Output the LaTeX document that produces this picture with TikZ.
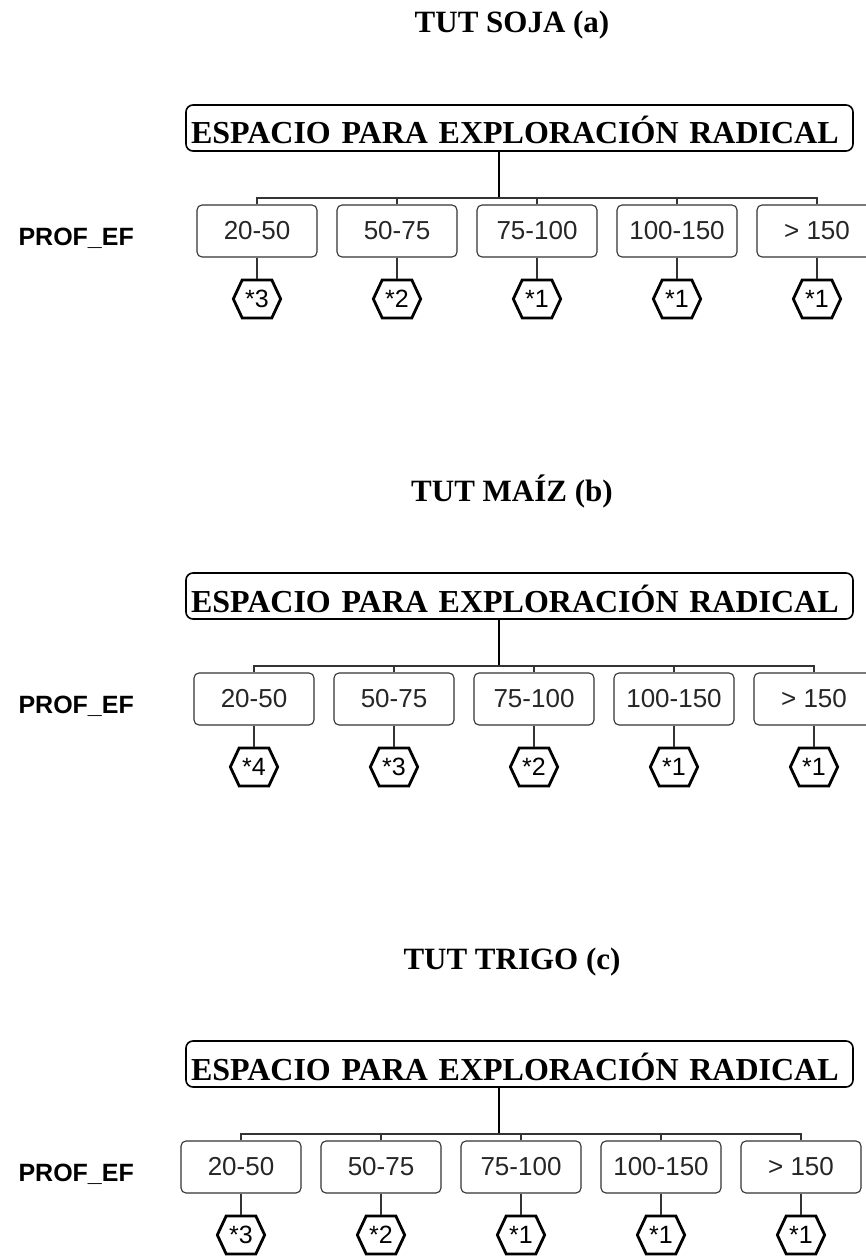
\documentclass[tikz,border=0pt]{standalone}
\usepackage{fontspec}
\setmainfont{Liberation Serif}
\newfontfamily\arialfont{Liberation Sans}
\usetikzlibrary{positioning,shapes.symbols}

\begin{document}
\begin{tikzpicture}[x=1pt, y=-1pt,
      paneltitle/.style={font=\fontsize{31}{36}\selectfont\bfseries, anchor=base},
      rootbox/.style={draw, line width=1.6pt, rounded corners=7pt, minimum height=46pt,
        text width=657pt, align=left, inner xsep=5pt, inner ysep=7pt,
        text height=32pt, text depth=0pt, font=\fontsize{32}{36}\selectfont\bfseries},
      rangebox/.style={draw=black!80, line width=1.1pt, rounded corners=5pt,
        minimum width=120pt, minimum height=52pt, inner sep=0pt, text=black!85,
        font=\arialfont\fontsize{26}{28}\selectfont},
      hexmark/.style={signal, signal to=east and west, signal pointer angle=130, draw,
        line width=2.8pt, minimum height=38pt, inner xsep=3pt, inner ysep=0pt,
        font=\arialfont\fontsize{25}{28}\selectfont},
      varlabel/.style={font=\arialfont\bfseries\fontsize{25}{28}\selectfont, anchor=base west},
      link/.style={draw=black!80, line width=1.1pt},
      rootlink/.style={line width=2.6pt}
    ]
    \useasboundingbox (0,0) rectangle (866,1257);
    \clip (0,0) rectangle (866,1257);

    \foreach \p/\dy/\dx/\ttl/\marks in {a/0/0/{TUT SOJA (a)}/{3,2,1,1,1},
        b/468/-3/{TUT MAÍZ (b)}/{4,3,2,1,1},
        c/936/-16/{TUT TRIGO (c)}/{3,2,1,1,1}} {
      \node[paneltitle] (\p title) at (512,33+\dy) {\ttl};
      \node[rootbox] (\p root) at (519.5,128+\dy) {ESPACIO PARA EXPLORACIÓN RADICAL};
      \node[varlabel] (\p var) at (15,245+\dy) {PROF\_EF};
      \coordinate (\p join) at (499,198+\dy);

      \foreach \lbl [count=\j] in {20-50,50-75,75-100,100-150,{> 150}} {
        \node[rangebox] (\p\j) at (117+140*\j+\dx,231+\dy) {\lbl};
      }
      \foreach \m [count=\j] in \marks {
        \node[hexmark, below=21pt of \p\j] (\p\j h) {*\m};
        \draw[link] (\p\j.south) -- (\p\j h.north);
      }

      \draw[rootlink] (\p join |- \p root.south) -- (\p join);
      \draw[link] (\p1.north) |- (\p join) -| (\p5.north);
      \foreach \j in {2,3,4} {
        \draw[link] (\p\j.north) -- (\p\j.north |- \p join);
      }
    }
  \end{tikzpicture}
\end{document}
